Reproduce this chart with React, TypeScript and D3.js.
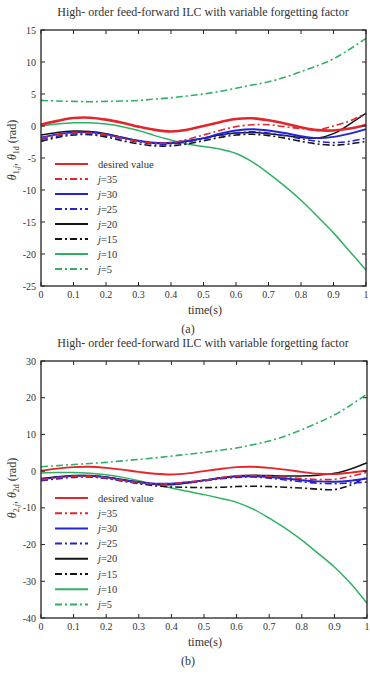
import React, { useRef, useEffect } from 'react';
import * as d3 from 'd3';

// sample instants (s)
const time = [0, 0.05, 0.1, 0.15, 0.2, 0.25, 0.3, 0.35, 0.4, 0.45, 0.5, 0.55, 0.6, 0.65, 0.7, 0.75, 0.8, 0.85, 0.9, 0.95, 1];
const xTicks = [0, 0.1, 0.2, 0.3, 0.4, 0.5, 0.6, 0.7, 0.8, 0.9, 1];
const yTicksA = [15, 10, 5, 0, -5, -10, -15, -20, -25];
const yTicksB = [30, 20, 10, 0, -10, -20, -30, -40];
const legendNames = ['desired value', '35', '30', '25', '20', '15', '10', '5'];

// joint 1 (a)
const desiredA = [0.2, 0.8, 1.25, 1.3, 1.0, 0.5, -0.1, -0.6, -0.85, -0.6, 0.0, 0.6, 1.1, 1.2, 0.9, 0.4, -0.2, -0.65, -0.7, -0.4, 0.15];
const j35A = [-1.9, -1.4, -1.1, -1.1, -1.4, -1.9, -2.4, -2.7, -2.6, -2.1, -1.4, -0.7, -0.1, 0.2, 0.2, -0.1, -0.4, -0.6, 0.0, 0.8, 2.0];
const j30A = [-1.8, -1.3, -1.0, -1.0, -1.3, -1.8, -2.3, -2.6, -2.6, -2.3, -1.9, -1.2, -0.7, -0.5, -0.7, -1.1, -1.6, -1.9, -1.7, -1.2, -0.5];
const j25A = [-2.1, -1.6, -1.2, -1.2, -1.5, -2.0, -2.5, -2.8, -2.8, -2.5, -2.0, -1.5, -1.1, -0.9, -1.1, -1.5, -2.0, -2.4, -2.6, -2.4, -1.9];
const j20A = [-1.4, -1.0, -0.8, -0.85, -1.2, -1.8, -2.3, -2.7, -2.7, -2.4, -1.9, -1.4, -1.1, -1.0, -1.2, -1.5, -1.8, -1.9, -1.2, 0.3, 2.0];
const j15A = [-2.4, -1.8, -1.4, -1.35, -1.7, -2.3, -2.8, -3.1, -3.1, -2.8, -2.3, -1.8, -1.4, -1.3, -1.5, -1.9, -2.4, -2.8, -3.0, -2.8, -2.4];
const j10A = [0.0, 0.3, 0.5, 0.5, 0.3, -0.1, -0.7, -1.5, -2.2, -2.8, -3.2, -3.6, -4.3, -5.6, -7.4, -9.4, -11.6, -14.1, -16.7, -19.6, -22.5];
const j5A = [4.0, 3.9, 3.85, 3.8, 3.85, 3.9, 4.0, 4.2, 4.4, 4.7, 5.0, 5.4, 5.9, 6.4, 6.9, 7.6, 8.5, 9.4, 10.5, 12.0, 13.7];

// joint 2 (b)
const desiredB = [0.1, 0.7, 1.1, 1.2, 0.9, 0.4, -0.2, -0.7, -0.9, -0.6, 0.0, 0.6, 1.1, 1.2, 0.9, 0.4, -0.2, -0.7, -0.8, -0.4, 0.1];
const j35B = [-2.3, -1.8, -1.4, -1.4, -1.8, -2.5, -3.1, -3.5, -3.4, -3.0, -2.5, -1.8, -1.3, -1.2, -1.4, -1.7, -2.0, -2.3, -2.2, -1.4, -0.3];
const j30B = [-2.2, -1.7, -1.3, -1.3, -1.7, -2.4, -3.0, -3.4, -3.4, -3.0, -2.5, -1.9, -1.5, -1.4, -1.6, -2.0, -2.5, -2.8, -2.9, -2.6, -2.0];
const j25B = [-2.6, -2.1, -1.7, -1.6, -1.9, -2.6, -3.2, -3.6, -3.6, -3.2, -2.7, -2.1, -1.7, -1.6, -1.9, -2.4, -2.9, -3.3, -3.4, -3.2, -3.0];
const j20B = [-2.0, -1.5, -1.2, -1.2, -1.6, -2.3, -3.0, -3.6, -3.7, -3.2, -2.5, -1.8, -1.3, -1.1, -1.2, -1.3, -1.3, -1.1, -0.6, 0.6, 2.3];
const j15B = [-2.3, -1.8, -1.5, -1.5, -2.0, -2.7, -3.4, -4.0, -4.3, -4.4, -4.5, -4.4, -4.2, -4.1, -4.2, -4.4, -4.6, -4.9, -5.0, -3.8, -1.5];
const j10B = [-0.5, -0.4, -0.4, -0.6, -1.0, -1.7, -2.6, -3.6, -4.6, -5.5, -6.4, -7.4, -8.5, -10.3, -12.8, -15.6, -18.8, -22.4, -26.1, -30.6, -36.0];
const j5B = [1.2, 1.5, 1.8, 2.1, 2.4, 2.8, 3.2, 3.6, 4.1, 4.6, 5.1, 5.7, 6.3, 7.2, 8.2, 9.6, 11.3, 13.2, 15.3, 18.0, 21.0];

const RED = '#e3262b';
const BLUE = '#2424d4';
const BLACK = '#151515';
const GREEN = '#2fb063';
const DASHDOT = '7,3,2,3';

const styles = [
  { color: RED, dash: null, w: 2.4 },
  { color: RED, dash: DASHDOT, w: 1.6 },
  { color: BLUE, dash: null, w: 1.9 },
  { color: BLUE, dash: DASHDOT, w: 1.6 },
  { color: BLACK, dash: null, w: 1.5 },
  { color: BLACK, dash: DASHDOT, w: 1.6 },
  { color: GREEN, dash: null, w: 1.5 },
  { color: GREEN, dash: DASHDOT, w: 1.6 },
];

const FONT = '"Liberation Serif", "DejaVu Serif", serif';
const INK = '#333';

const drawPanel = (svg, p) => {
  const x = d3.scaleLinear().domain([0, 1]).range([p.left, p.right]);
  const y = d3.scaleLinear().domain(p.yDomain).range([p.bottom, p.top]);
  const g = svg.append('g');

  g.append('text')
    .attr('x', 203)
    .attr('y', p.top - 14)
    .attr('text-anchor', 'middle')
    .attr('font-family', FONT)
    .attr('font-size', 12)
    .attr('fill', INK)
    .text('High- order feed-forward ILC with variable forgetting factor');

  const line = d3
    .line()
    .x((d, i) => x(time[i]))
    .y(d => y(d))
    .curve(d3.curveCatmullRom);

  // draw back to front so the desired trajectory stays on top
  const order = [7, 6, 5, 4, 3, 2, 1, 0];
  order.forEach(k => {
    const s = styles[k];
    g.append('path')
      .attr('d', line(p.series[k]))
      .attr('fill', 'none')
      .attr('stroke', s.color)
      .attr('stroke-width', k === 0 ? p.desiredWidth : s.w)
      .attr('stroke-dasharray', s.dash)
      .attr('stroke-linejoin', 'round');
  });

  // frame
  g.append('rect')
    .attr('x', p.left)
    .attr('y', p.top)
    .attr('width', p.right - p.left)
    .attr('height', p.bottom - p.top)
    .attr('fill', 'none')
    .attr('stroke', '#222')
    .attr('stroke-width', 1.3);

  xTicks.forEach(t => {
    const px = x(t);
    g.append('line').attr('x1', px).attr('x2', px).attr('y1', p.bottom).attr('y2', p.bottom - 4).attr('stroke', '#222');
    g.append('line').attr('x1', px).attr('x2', px).attr('y1', p.top).attr('y2', p.top + 4).attr('stroke', '#222');
    g.append('text')
      .attr('x', px)
      .attr('y', p.bottom + 12)
      .attr('text-anchor', 'middle')
      .attr('font-family', FONT)
      .attr('font-size', 10)
      .attr('fill', INK)
      .text(t);
  });

  p.yTicks.forEach(v => {
    const py = y(v);
    g.append('line').attr('x1', p.left).attr('x2', p.left + 4).attr('y1', py).attr('y2', py).attr('stroke', '#222');
    g.append('line').attr('x1', p.right).attr('x2', p.right - 4).attr('y1', py).attr('y2', py).attr('stroke', '#222');
    g.append('text')
      .attr('x', p.left - 5)
      .attr('y', py + 3.5)
      .attr('text-anchor', 'end')
      .attr('font-family', FONT)
      .attr('font-size', 10)
      .attr('fill', INK)
      .text(v);
  });

  g.append('text')
    .attr('x', 205)
    .attr('y', p.bottom + 28)
    .attr('text-anchor', 'middle')
    .attr('font-family', FONT)
    .attr('font-size', 12)
    .attr('fill', INK)
    .text('time(s)');

  g.append('text')
    .attr('x', 188)
    .attr('y', p.bottom + 47)
    .attr('text-anchor', 'middle')
    .attr('font-family', FONT)
    .attr('font-size', 12)
    .attr('fill', INK)
    .text(p.caption);

  // y label with subscripts
  const yl = g
    .append('text')
    .attr('transform', `translate(16,${p.labelY}) rotate(-90)`)
    .attr('text-anchor', 'middle')
    .attr('font-family', FONT)
    .attr('font-size', 12)
    .attr('fill', INK);
  yl.append('tspan').attr('font-style', 'italic').text('θ');
  yl.append('tspan').attr('dy', 3).attr('font-size', 8).text(p.joint + ',');
  yl.append('tspan').attr('font-size', 8).attr('font-style', 'italic').text('j');
  yl.append('tspan').attr('dy', -3).text(', ');
  yl.append('tspan').attr('font-style', 'italic').text('θ');
  yl.append('tspan').attr('dy', 3).attr('font-size', 8).text(p.joint + 'd');
  yl.append('tspan').attr('dy', -3).text(' (rad)');

  // legend
  legendNames.forEach((name, k) => {
    const s = styles[k];
    const ly = p.legendTop + k * p.legendStep;
    g.append('line')
      .attr('x1', 55)
      .attr('x2', 88)
      .attr('y1', ly)
      .attr('y2', ly)
      .attr('stroke', s.color)
      .attr('stroke-width', 2)
      .attr('stroke-dasharray', s.dash);
    const lt = g
      .append('text')
      .attr('x', 98)
      .attr('y', ly + 3.5)
      .attr('font-family', FONT)
      .attr('font-size', 10.5)
      .attr('fill', INK);
    if (k === 0) {
      lt.text(name);
    } else {
      lt.append('tspan').attr('font-style', 'italic').text('j');
      lt.append('tspan').text('=' + name);
    }
  });
};

const App = () => {
  const ref = useRef(null);

  useEffect(() => {
    const svg = d3.select(ref.current);
    svg.selectAll('*').remove();
    drawPanel(svg, {
      left: 41,
      right: 366,
      top: 30,
      bottom: 286,
      yDomain: [-25, 15],
      yTicks: yTicksA,
      series: [desiredA, j35A, j30A, j25A, j20A, j15A, j10A, j5A],
      desiredWidth: 2.6,
      caption: '(a)',
      joint: '1',
      labelY: 150,
      legendTop: 164,
      legendStep: 15,
    });
    drawPanel(svg, {
      left: 41,
      right: 367,
      top: 361,
      bottom: 618,
      yDomain: [-40, 30],
      yTicks: yTicksB,
      series: [desiredB, j35B, j30B, j25B, j20B, j15B, j10B, j5B],
      desiredWidth: 1.9,
      caption: '(b)',
      joint: '2',
      labelY: 488,
      legendTop: 498,
      legendStep: 15.2,
    });
  });

  return (
    <svg
      ref={ref}
      width={370}
      height={677}
      style={{ position: 'absolute', left: 0, top: 0, background: '#fff' }}
    />
  );
};

export default App;
